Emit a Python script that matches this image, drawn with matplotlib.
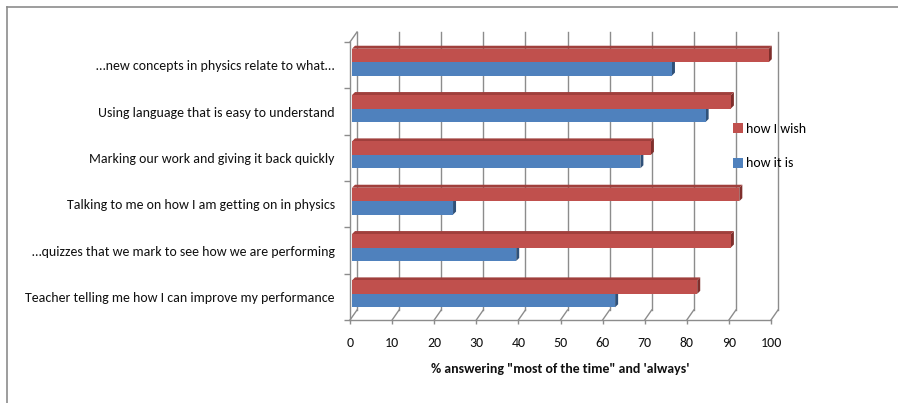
import matplotlib
matplotlib.use('Agg')
import matplotlib.pyplot as plt
from matplotlib.patches import Polygon, Rectangle
from matplotlib.lines import Line2D

# ---------------- data ----------------
categories = [
    "\u2026new concepts in physics relate to what\u2026",
    "Using language that is easy to understand",
    "Marking our work and giving it back quickly",
    "Talking to me on how I am getting on in physics",
    "\u2026quizzes that we mark to see how we are performing",
    "Teacher telling me how I can improve my performance",
]
how_i_wish = [99, 90, 71, 92, 90, 82]
how_it_is = [76, 84, 68.5, 24, 39, 62.5]
series_names = ["how I wish", "how it is"]
xticks = [0, 10, 20, 30, 40, 50, 60, 70, 80, 90, 100]
xlabel = "% answering \"most of the time\" and 'always'"

# ---------------- style ----------------
FONT = ['Carlito', 'DejaVu Sans']
plt.rcParams['font.family'] = FONT
RED, RED_TOP, RED_SIDE = '#C0504D', '#A03F3C', '#7F2F2C'
BLUE, BLUE_TOP, BLUE_SIDE = '#4F81BD', '#3E6A9E', '#2F5179'
GRID = '#8C8C8C'
TXT = '#111111'

W, H = 898, 403
DPI = 100
fig = plt.figure(figsize=(W / DPI, H / DPI), dpi=DPI)

# outer chart frame (top and left visible)
fig.add_artist(Line2D([6.5 / W, 6.5 / W], [0, 1 - 7 / H], transform=fig.transFigure,
                      color='#8C8C8C', lw=1.2))
fig.add_artist(Line2D([6.5 / W, 1], [1 - 7 / H, 1 - 7 / H], transform=fig.transFigure,
                      color='#8C8C8C', lw=1.2))

x0, x1 = 350, 771
ytop, ybot = 42, 320
ax = fig.add_axes([x0 / W, 1 - ybot / H, (x1 - x0) / W, (ybot - ytop) / H])
n = len(categories)
ax.set_xlim(0, 100)
ax.set_ylim(-0.5, n - 0.5)
for s in ax.spines.values():
    s.set_visible(False)
ax.patch.set_alpha(0)

# conversion of pixel offsets to data units via the axes scale
p0 = ax.transData.transform((0, 0))
px_x = 100.0 / (ax.transData.transform((100, 0))[0] - p0[0])
px_y = (n * 1.0) / (ax.transData.transform((0, n))[1] - p0[1])

def off(dxp, dyp):
    return dxp * px_x, dyp * px_y

# back wall offset
bdx, bdy = off(7, 10)

for t in xticks:
    # back wall gridline
    ax.plot([t + bdx, t + bdx], [-0.5 + bdy, n - 0.5 + bdy], color=GRID, lw=1.0,
            zorder=1, clip_on=False)
    # floor slant
    ax.plot([t, t + bdx], [-0.5, -0.5 + bdy], color=GRID, lw=1.0, zorder=1, clip_on=False)
# front floor edge
ax.plot([0, 100], [-0.5, -0.5], color=GRID, lw=1.0, zorder=1, clip_on=False)
# left wall: front vertical and top slant
ax.plot([0, 0], [-0.5, n - 0.5], color=GRID, lw=1.0, zorder=6, clip_on=False)
ax.plot([0, bdx], [n - 0.5, n - 0.5 + bdy], color=GRID, lw=1.0, zorder=6, clip_on=False)

# bars
ypos = [n - 1 - i for i in range(n)]
h = 0.29
fdx, fdy = off(2, 3)      # bar front-face offset (mid depth)
ddx, ddy = off(3, 3)      # bar depth

def bar3d(yc, val, c_front, c_top, c_side, draw_top):
    xl = fdx
    xr = val + fdx
    yb = yc - h / 2 + fdy
    yt = yc + h / 2 + fdy
    ax.add_patch(Polygon([(xr, yb), (xr + ddx, yb + ddy), (xr + ddx, yt + ddy), (xr, yt)],
                         closed=True, facecolor=c_side, edgecolor='none', zorder=3,
                         clip_on=False))
    if draw_top:
        ax.add_patch(Polygon([(xl, yt), (xl + ddx, yt + ddy), (xr + ddx, yt + ddy), (xr, yt)],
                             closed=True, facecolor=c_top, edgecolor='none', zorder=3,
                             clip_on=False))
    ax.add_patch(Rectangle((xl, yb), val, h, facecolor=c_front, edgecolor='none',
                           zorder=4, clip_on=False))

for i in range(n):
    bar3d(ypos[i] - h / 2, how_it_is[i], BLUE, BLUE_TOP, BLUE_SIDE, False)
    bar3d(ypos[i] + h / 2, how_i_wish[i], RED, RED_TOP, RED_SIDE, True)

# y axis: boundary ticks, labels at centres
ax.set_yticks([k - 0.5 for k in range(n + 1)])
ax.set_yticklabels([])
ax.tick_params(axis='y', which='major', direction='out', length=4, color=GRID, width=1.0)
ax.set_yticks(ypos, minor=True)
ax.set_yticklabels(categories, minor=True, fontsize=10, color=TXT)
ax.tick_params(axis='y', which='minor', length=0, pad=11)

# x axis
ax.set_xticks(xticks)
ax.set_xticklabels([str(t) for t in xticks], fontsize=10, color=TXT)
ax.tick_params(axis='x', direction='out', length=3, color=GRID, width=1.0, pad=9)
ax.set_xlabel(xlabel, fontsize=10, fontweight='bold', labelpad=10, color=TXT)

# legend
handles = [Rectangle((0, 0), 1, 1, facecolor=RED, edgecolor='none'),
           Rectangle((0, 0), 1, 1, facecolor=BLUE, edgecolor='none')]
fig.legend(handles, series_names, loc='center left',
           bbox_to_anchor=(733 / W, 1 - 146 / H), frameon=False, fontsize=10,
           handlelength=0.75, handleheight=0.75, handletextpad=0.15, labelspacing=1.65,
           borderpad=0, borderaxespad=0)

fig.savefig('out.png', dpi=DPI)
